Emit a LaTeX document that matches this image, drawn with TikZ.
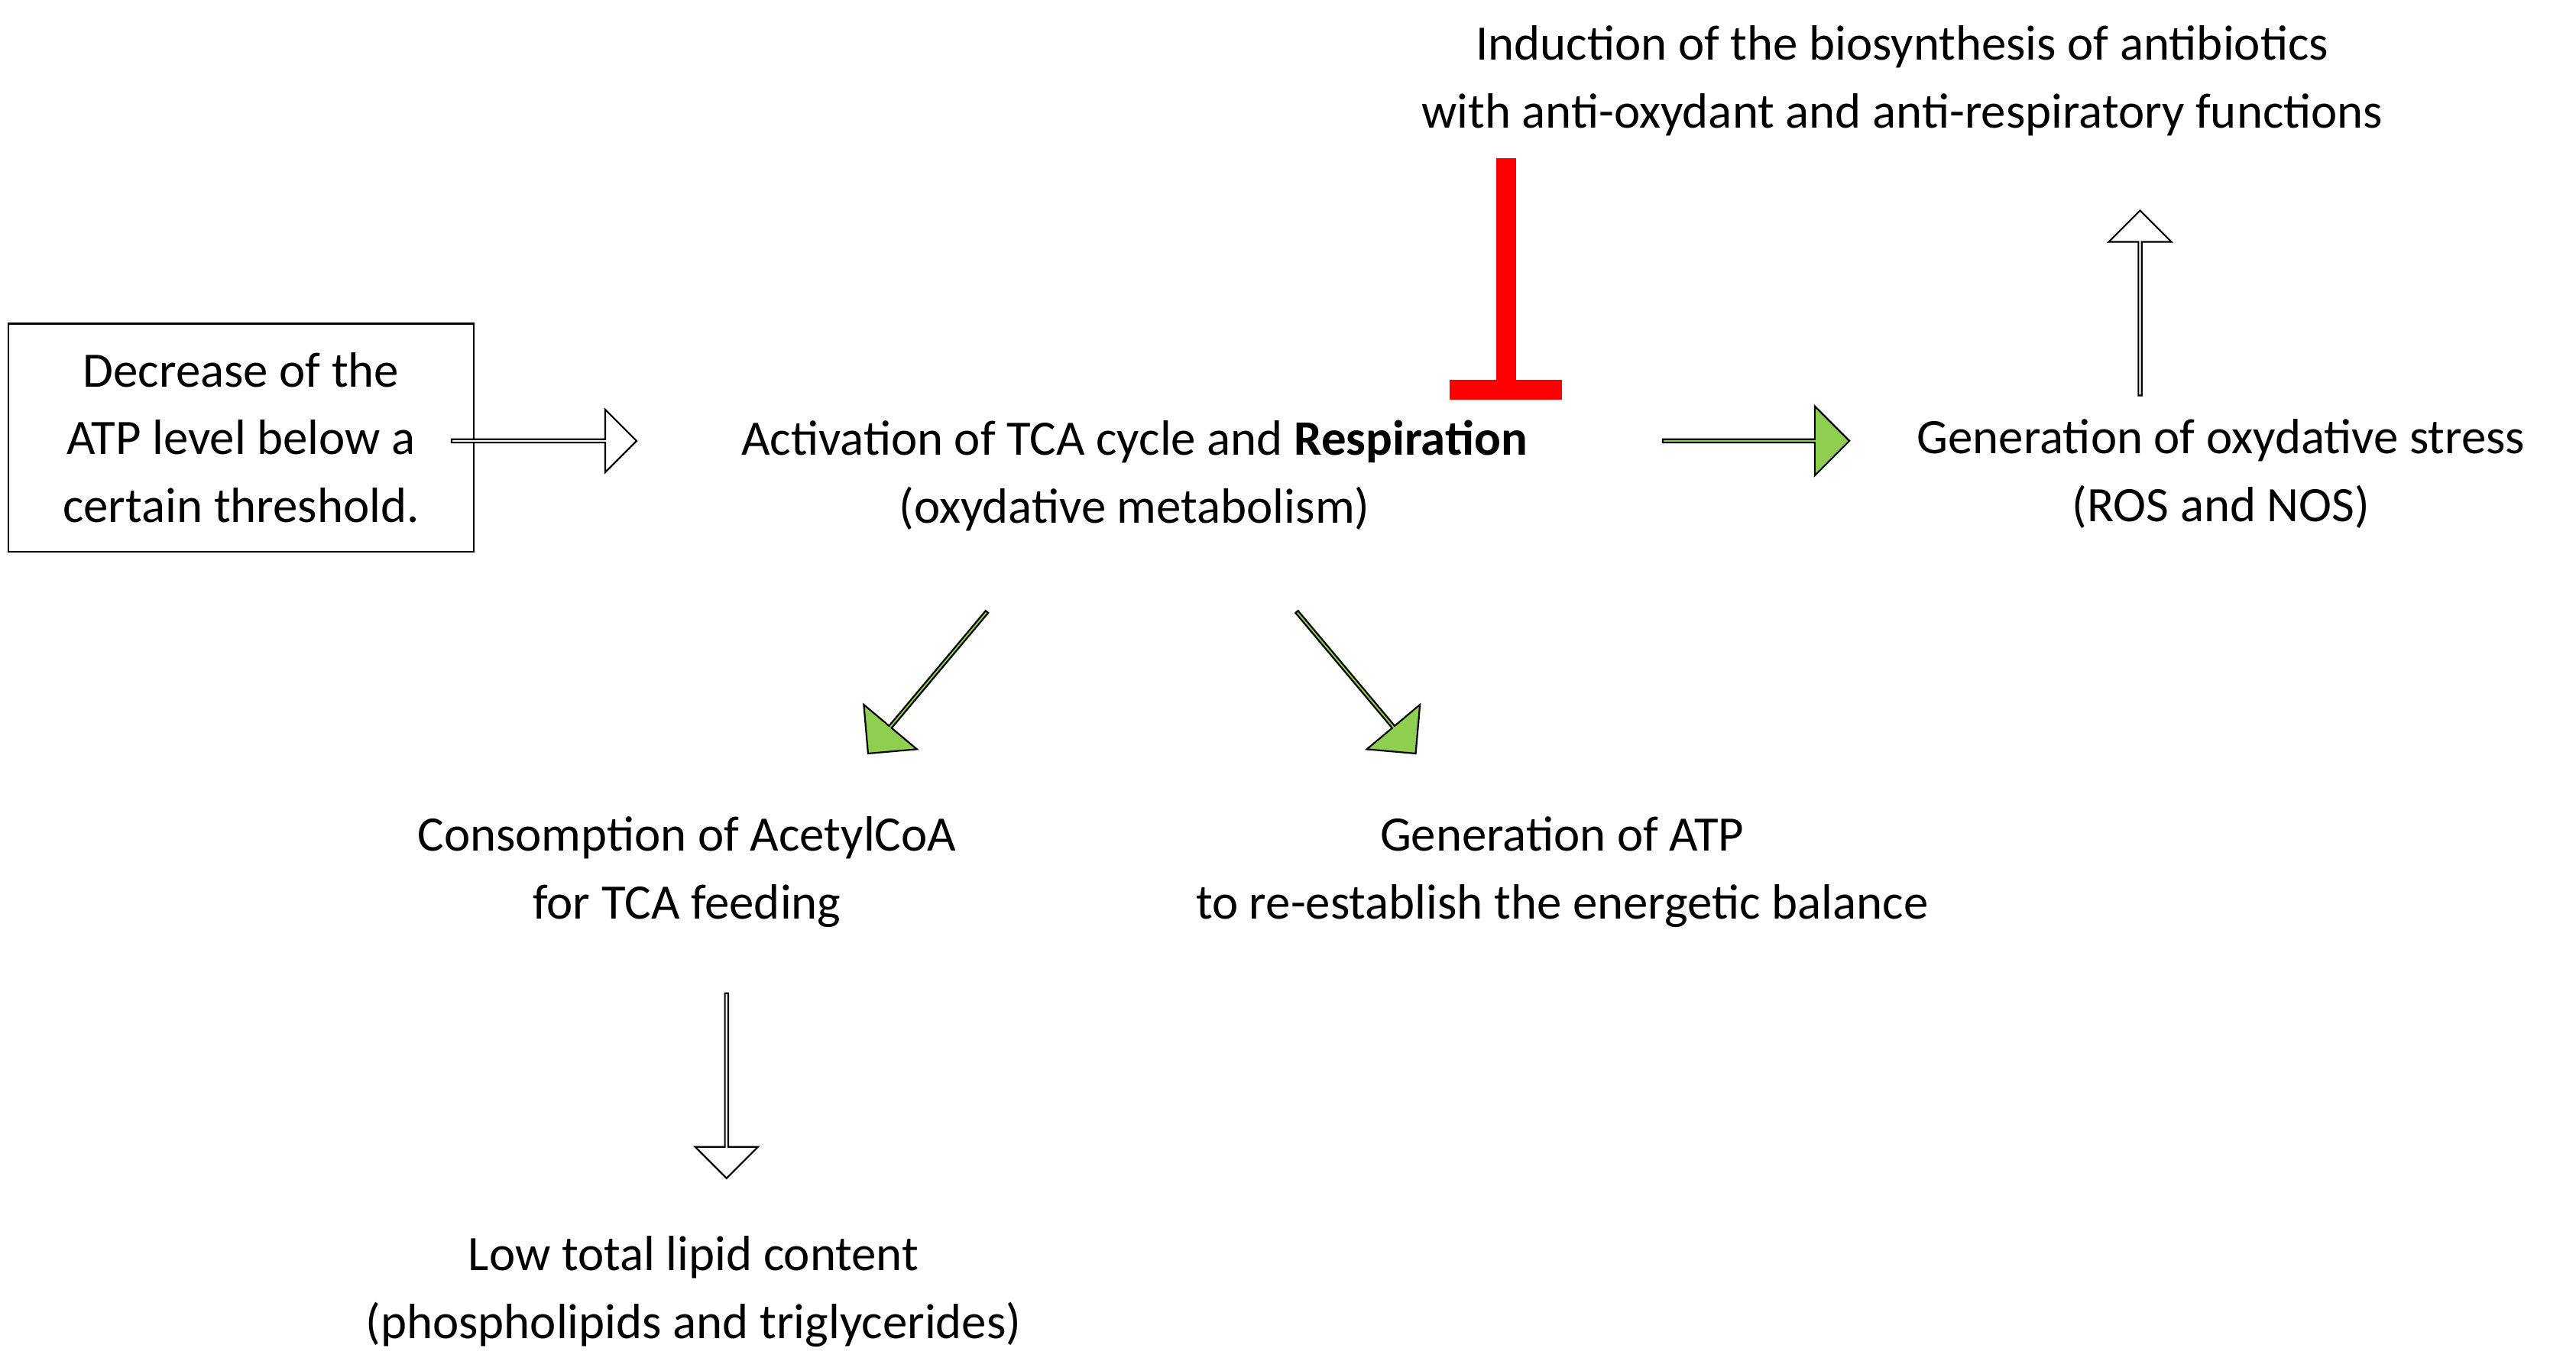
\documentclass[tikz,border=0pt]{standalone}
\usepackage{fontspec}
\setmainfont{Carlito}
\usetikzlibrary{shapes.arrows}
\definecolor{grn}{HTML}{8FCF4F}
\begin{document}
\begin{tikzpicture}[x=1pt,y=-1pt,
  txt/.style={align=center,font=\fontsize{30}{41}\selectfont,inner sep=0pt},
  barrow/.style={single arrow,draw=black,line width=1pt,minimum width=40pt,single arrow head extend=10pt,inner sep=0pt,minimum height=#1,anchor=center},
  hol/.style={barrow=#1,fill=white},
  gre/.style={barrow=#1,fill=grn,minimum width=42pt}]
\useasboundingbox (0,0) rectangle (1560,830);
\node[draw,line width=1pt,minimum width=282pt,minimum height=138pt,inner sep=0pt] (box) at (146,265) {};
\node[txt] (t0) at (146,265) {Decrease of the\\ATP level below a\\certain threshold.};
\node[txt] (t1) at (687,288) {Activation of TCA cycle and \textbf{Respiration}\\(oxydative metabolism)};
\node[txt] (t2) at (1345,287) {Generation of oxydative stress\\(ROS and NOS)};
\node[txt] (t3) at (1152,49) {Induction of the biosynthesis of antibiotics\\with anti-oxydant and anti-respiratory functions};
\node[txt] (t4) at (416,528) {Consomption of AcetylCoA\\for TCA feeding};
\node[txt] (t5) at (946,528) {Generation of ATP\\to re-establish the energetic balance};
\node[txt] (t6) at (420,782) {Low total lipid content\\(phospholipids and triglycerides)};
\node[hol=112pt,minimum width=38pt,single arrow head extend=9pt] (a1) at (329,267) {};
\node[gre=113pt] (a2) at (1063,267) {};
\node[hol=112pt,rotate=90,minimum width=38pt,single arrow head extend=9pt] (a3) at (1296,184) {};
\node[gre=112pt,rotate=-130] (a4) at (562,413) {};
\node[gre=112pt,rotate=-50] (a5) at (821,413) {};
\node[hol=112pt,rotate=-90,minimum width=38pt,single arrow head extend=9pt] (a6) at (440,657) {};
\coordinate (r0) at (912,96);
\coordinate (r1) at (912,236);
\draw[red,line width=12pt] (r0) -- (r1);
\draw[red,line width=12pt] ([xshift=-34pt]r1) -- ([xshift=34pt]r1);
\end{tikzpicture}
\end{document}
